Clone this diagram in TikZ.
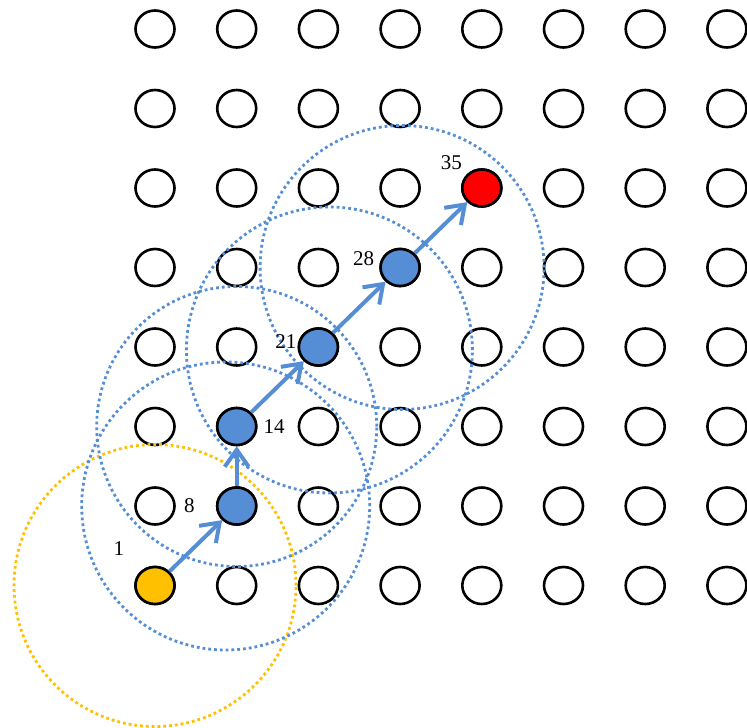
\documentclass[tikz,border=0pt]{standalone}
\usepackage{fontspec}
\setmainfont{Liberation Serif}
\usepackage{xcolor}
\usetikzlibrary{arrows.meta,positioning,shapes.geometric}
\definecolor{ppblue}{RGB}{85,142,213}
\definecolor{ppgold}{RGB}{255,192,0}

\begin{document}
\begin{tikzpicture}[x=1pt,y=-1pt,
  every node/.style={font=\fontsize{21}{25}\selectfont},
  cell/.style={draw,ellipse,line width=2.6pt,inner sep=0pt,
               minimum width=39pt,minimum height=37pt,fill=white},
  hop/.style={ppblue,line width=4pt,-{Straight Barb[length=17pt,width=24pt]}},
  reach/.style={line width=2.8pt,dash pattern=on 2.8pt off 3pt},
  num/.style={inner sep=0pt},
]
\useasboundingbox (0,0) rectangle (747,728);
\foreach \c in {0,...,7}
  \foreach \r in {0,...,7}
    \node[cell] (g-\c-\r) at (155+81.7*\c,29+79.5*\r) {};
\node[cell,fill=ppgold] (n1) at (g-0-7) {};
\node[cell,fill=ppblue] (n8) at (g-1-6) {};
\node[cell,fill=ppblue] (n14) at (g-1-5) {};
\node[cell,fill=ppblue] (n21) at (g-2-4) {};
\node[cell,fill=ppblue] (n28) at (g-3-3) {};
\node[cell,fill=red] (n35) at (g-4-2) {};
\draw[reach,ppgold] (n1.center) circle[radius=141pt];
\draw[reach,ppblue] ([xshift=-11pt]n8.center) circle[radius=144pt];
\draw[reach,ppblue] (n14.center) circle[radius=140pt];
\draw[reach,ppblue] ([xshift=11pt,yshift=-3pt]n21.center) circle[radius=143pt];
\draw[reach,ppblue] ([xshift=2pt]n28.center) circle[radius=142pt];
\draw[hop] (n1) -- (n8);
\draw[hop] (n8) -- (n14);
\draw[hop] (n14) -- (n21);
\draw[hop] (n21) -- (n28);
\draw[hop] (n28) -- (n35);
\node[num,above left=16pt and 16pt of n1] (l1) {1};
\node[num,left=21pt of n8] (l8) {8};
\node[num,right=6pt of n14] (l14) {14};
\node[num,left=1pt of n21,yshift=5pt] (l21) {21};
\node[num,left=5pt of n28,yshift=9pt] (l28) {28};
\node[num,above left=4pt and 5pt of n35] (l35) {35};
\end{tikzpicture}
\end{document}
